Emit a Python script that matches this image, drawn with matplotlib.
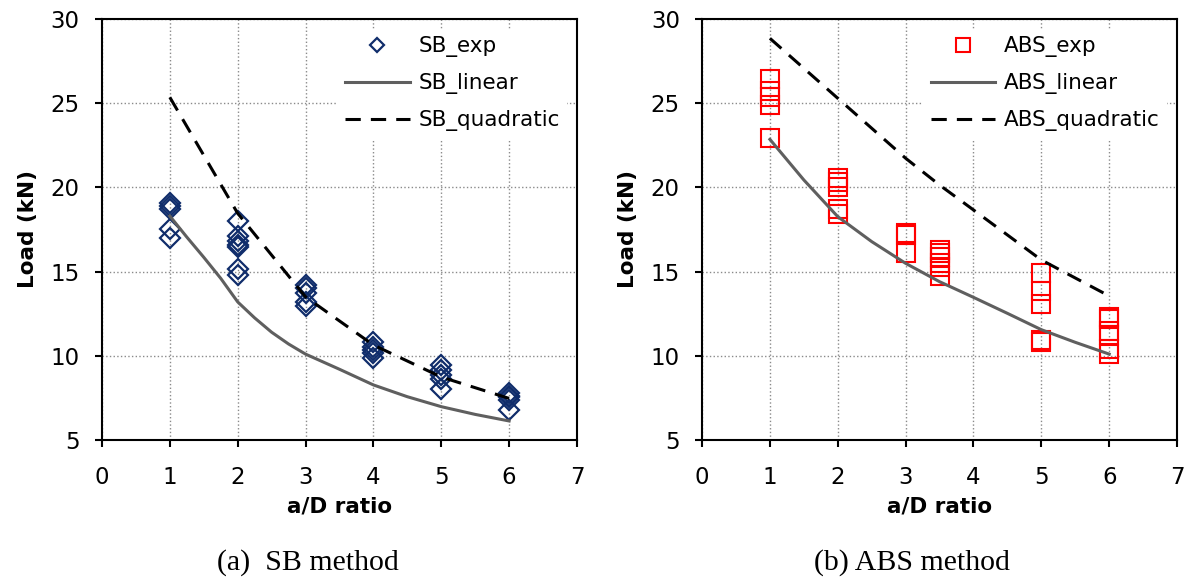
import numpy as np
import matplotlib
matplotlib.use('Agg')
import matplotlib.pyplot as plt

plt.rcParams['font.family'] = ['DejaVu Sans']

## the data
# (a) SB method
sb_x = [1]*5 + [2]*7 + [3]*5 + [4]*5 + [5]*5 + [6]*5
sb_exp = [19.1, 18.9, 18.7, 17.5, 17.0,
          18.0, 17.1, 16.8, 16.6, 16.45, 15.15, 14.8,
          14.2, 14.0, 13.7, 13.2, 12.95,
          10.8, 10.55, 10.35, 10.15, 9.85,
          9.45, 9.15, 8.85, 8.6, 8.05,
          7.8, 7.6, 7.55, 7.4, 6.8]
sb_lin_x = [1, 1.25, 1.5, 1.75, 2, 2.25, 2.5, 2.75, 3, 3.5, 4, 4.5, 5, 5.5, 6]
sb_lin = [18.3, 17.05, 15.85, 14.6, 13.2, 12.25, 11.4, 10.7, 10.1,
          9.2, 8.27, 7.57, 6.98, 6.52, 6.13]
sb_quad_x = [1, 2, 3, 4, 5, 6]
sb_quad = [25.35, 18.46, 13.5, 10.64, 8.74, 7.47]

# (b) ABS method
abs_x = [1]*5 + [2]*5 + [3]*3 + [3.5]*6 + [5]*5 + [6]*6
abs_exp = [26.45, 25.75, 25.35, 24.9, 22.95,
           20.55, 20.3, 20.0, 18.7, 18.4,
           17.3, 17.2, 16.1,
           16.3, 16.1, 15.85, 15.5, 15.25, 14.75,
           14.9, 13.85, 13.05, 10.95, 10.8,
           12.3, 12.2, 11.45, 11.25, 10.4, 10.1]
abs_lin_x = [1, 1.5, 2, 2.5, 3, 3.5, 4, 4.5, 5, 5.5, 6]
abs_lin = [22.85, 20.44, 18.26, 16.78, 15.49, 14.4, 13.47, 12.52, 11.55, 10.8, 10.1]
abs_quad_x = [1, 2, 3, 3.5, 4, 5, 6]
abs_quad = [28.85, 25.29, 21.73, 20.14, 18.66, 15.69, 13.55]

fig = plt.figure(figsize=(11.94, 5.82), dpi=100)
ax1 = fig.add_axes([0.0854, 0.244, 0.3978, 0.7234])
ax2 = fig.add_axes([0.588, 0.244, 0.3978, 0.7234])


def style_axes(ax):
    ax.set_xlim(0, 7)
    ax.set_ylim(5, 30)
    ax.set_xticks(range(0, 8))
    ax.set_yticks(range(5, 31, 5))
    ax.grid(True, color='#8a8a8a', linestyle=':', linewidth=1.0)
    ax.set_axisbelow(True)
    for s in ax.spines.values():
        s.set_linewidth(1.5)
    ax.tick_params(direction='out', length=5, width=1.5, labelsize=16.5)
    ax.tick_params(axis='x', pad=14)
    ax.tick_params(axis='y', pad=11)
    ax.set_xlabel('a/D ratio', fontsize=15.5, fontweight='bold', labelpad=5)
    ax.set_ylabel('Load (kN)', fontsize=15.5, fontweight='bold', labelpad=9)


# SB panel
style_axes(ax1)
h1, = ax1.plot(sb_x, sb_exp, linestyle='none', marker='D', markersize=9.8,
               markerfacecolor='none', markeredgecolor='#102d6b', markeredgewidth=1.6,
               label='SB_exp')
h2, = ax1.plot(sb_lin_x, sb_lin, color='#5f5f5f', linewidth=2.2, label='SB_linear')
h3, = ax1.plot(sb_quad_x, sb_quad, color='black', linewidth=2.2, dashes=(5, 3.3),
               label='SB_quadratic')
ax1.legend(handles=[h1, h2, h3], loc='upper right', fontsize=15.5, frameon=True,
           facecolor='white', edgecolor='none', framealpha=1, fancybox=False,
           handlelength=3.0, handletextpad=0.4, labelspacing=0.75,
           borderpad=0.35, borderaxespad=0.45, markerscale=0.7)

# ABS panel
style_axes(ax2)
g1, = ax2.plot(abs_x, abs_exp, linestyle='none', marker='s', markersize=12.5,
               markerfacecolor='none', markeredgecolor='#ff0000', markeredgewidth=1.5,
               label='ABS_exp')
g2, = ax2.plot(abs_lin_x, abs_lin, color='#5f5f5f', linewidth=2.2, label='ABS_linear')
g3, = ax2.plot(abs_quad_x, abs_quad, color='black', linewidth=2.2, dashes=(5, 3.3),
               label='ABS_quadratic')
ax2.legend(handles=[g1, g2, g3], loc='upper right', fontsize=15.5, frameon=True,
           facecolor='white', edgecolor='none', framealpha=1, fancybox=False,
           handlelength=3.0, handletextpad=0.4, labelspacing=0.75,
           borderpad=0.35, borderaxespad=0.45, markerscale=0.78)

# captions
fig.text(308 / 1194, 1 - 563 / 582, '(a)  SB method', ha='center', va='center',
         fontsize=21.5, family=['Liberation Serif', 'DejaVu Serif'])
fig.text(912 / 1194, 1 - 563 / 582, '(b) ABS method', ha='center', va='center',
         fontsize=21.5, family=['Liberation Serif', 'DejaVu Serif'])

fig.savefig('out.png', dpi=100)
